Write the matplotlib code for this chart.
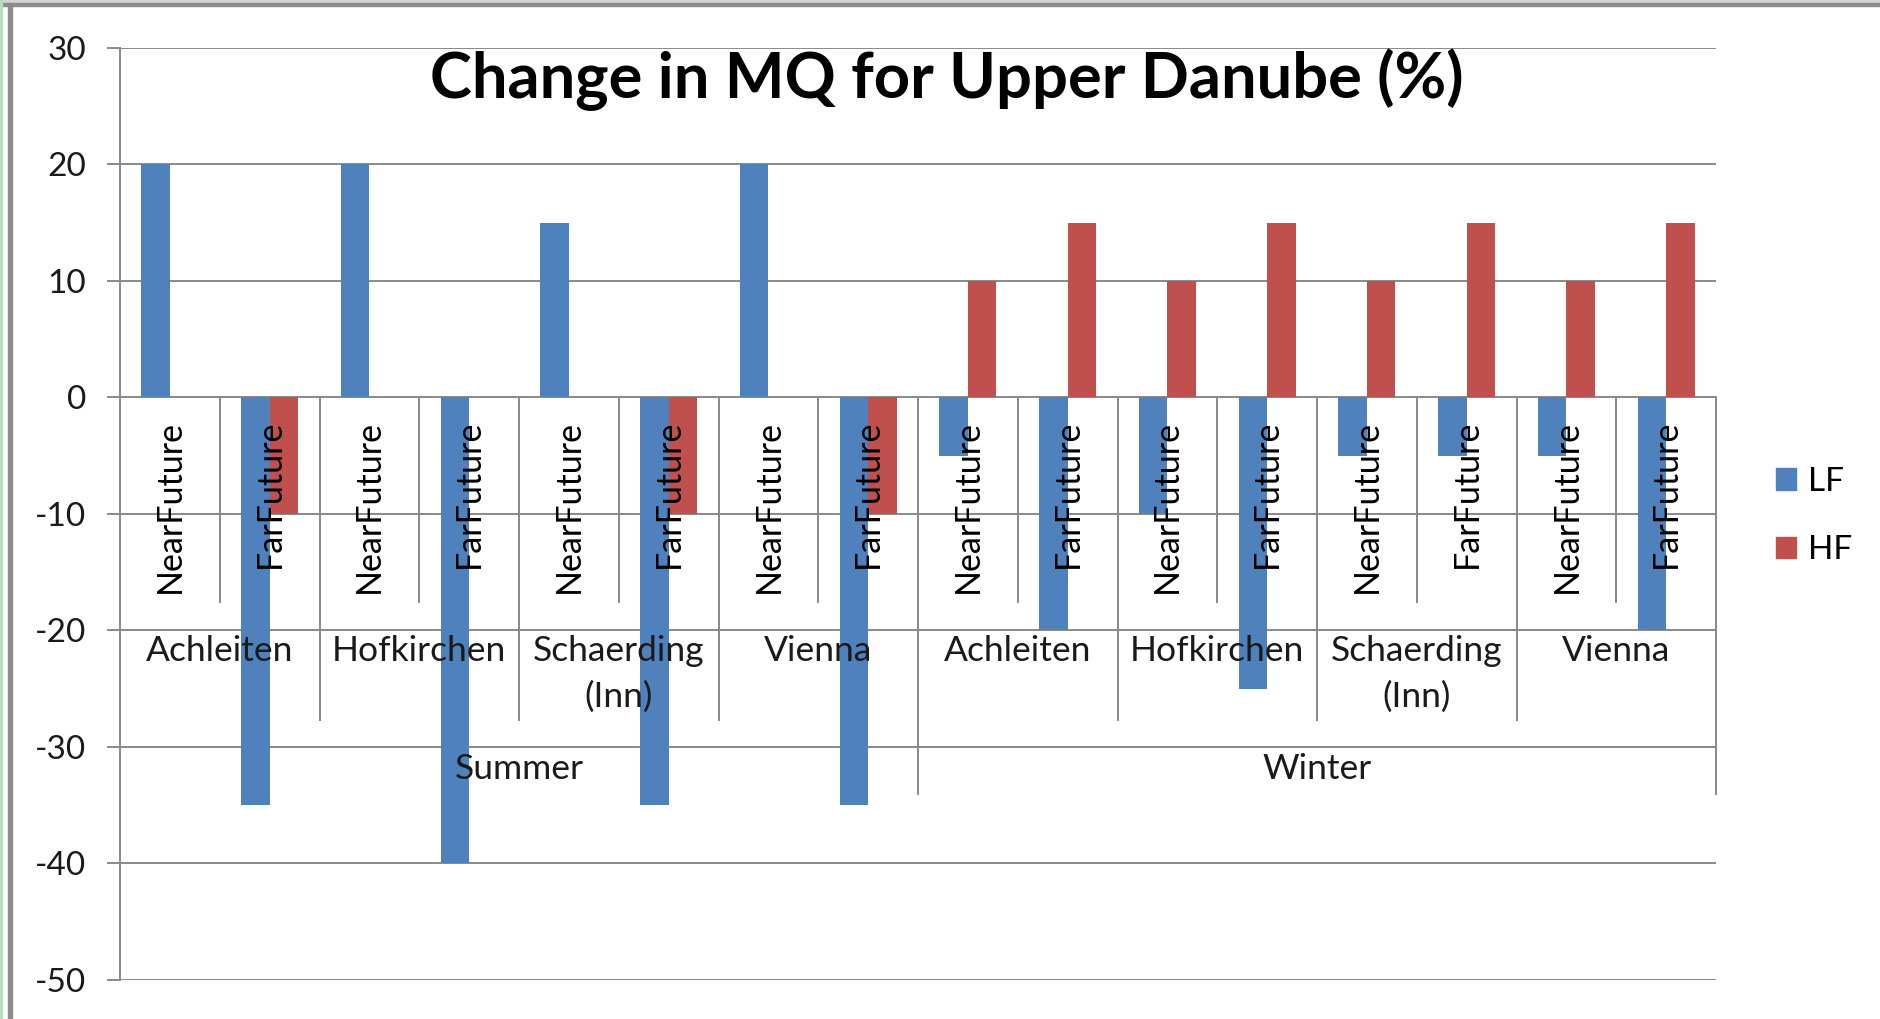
import matplotlib
matplotlib.use('Agg')
import numpy as np
import matplotlib.pyplot as plt
from matplotlib.patches import Rectangle, Patch

plt.rcParams['font.family'] = ['Lato', 'DejaVu Sans']
plt.rcParams['axes.unicode_minus'] = False

# data
seasons = ['Summer', 'Winter']
stations = ['Achleiten', 'Hofkirchen', 'Schaerding\n(Inn)', 'Vienna']
periods = ['NearFuture', 'FarFuture']
lf = [20, -35, 20, -40, 15, -35, 20, -35,
      -5, -20, -10, -25, -5, -5, -5, -20]
hf = [0, -10, 0, 0, 0, -10, 0, -10,
      10, 15, 10, 15, 10, 15, 10, 15]

blue = '#4F81BD'
red = '#C0504D'
gray = '#898989'

W, H = 1881, 1019
fig = plt.figure(figsize=(W / 100, H / 100), dpi=100)
top_px, bot_px = 47.7, 980
ax = fig.add_axes([120 / W, 1 - bot_px / H, (1716 - 120) / W, (bot_px - top_px) / H])


def ypx(p):
    # pixel row -> data value
    return 30 - (p - top_px) / ((bot_px - top_px) / 80)


n = len(lf)
x = np.arange(n)
w = 0.2857
ax.bar(x - w / 2, lf, w, color=blue, zorder=2)
ax.bar(x + w / 2, hf, w, color=red, zorder=2)

ax.set_xlim(-0.5, n - 0.5)
ax.set_ylim(-50, 30)
ax.set_yticks(range(-50, 31, 10))
ax.set_xticks([])
ax.grid(axis='y', color=gray, lw=1.4)
ax.set_axisbelow(True)
for s in ['top', 'right', 'bottom']:
    ax.spines[s].set_visible(False)
ax.spines['left'].set_color(gray)
ax.spines['left'].set_linewidth(1.4)
ax.tick_params(axis='y', length=9.4, width=1.4, color=gray, pad=15, labelsize=24,
               labelcolor='#1a1a1a')

# multi-level category labels
for i in range(n):
    ax.text(i, ypx(420), periods[i % 2], rotation=90, ha='center', va='top',
            fontsize=24.5, color='black', zorder=4)
for j in range(len(seasons) * len(stations)):
    ax.text(2 * j + 0.5, ypx(635), stations[j % len(stations)], ha='center', va='top',
            fontsize=25.5, color='#1a1a1a', linespacing=1.52, zorder=4)
for k, s in enumerate(seasons):
    ax.text(8 * k + 3.5, ypx(769), s, ha='center', va='center',
            fontsize=25.5, color='#1a1a1a', zorder=4)

# separators
for b in range(1, n + 1):
    xb = b - 0.5
    if b % 8 == 0:
        yb = ypx(794)
    elif b % 2 == 0:
        yb = ypx(720)
    else:
        yb = ypx(602)
    ax.plot([xb, xb], [0, yb], color=gray, lw=1.4, clip_on=False, zorder=1.5)

# title
fig.text(947 / W, 1 - 80 / H, 'Change in MQ for Upper Danube (%)', ha='center',
         va='center', fontsize=45.5, fontweight='bold', color='black')

# legend
handles = [Patch(color=blue, label='LF'), Patch(color=red, label='HF')]
fig.legend(handles=handles, loc='center left', bbox_to_anchor=(1776 / W, 1 - 516 / H),
           frameon=False, fontsize=24, handlelength=0.6, handleheight=0.6,
           handletextpad=0.35, labelspacing=1.15, borderpad=0, borderaxespad=0)

# window frame
fig.patches.append(Rectangle((0, 1 - 3 / H), 1, 3 / H, transform=fig.transFigure,
                             color='#d4d4d4', zorder=0))
fig.patches.append(Rectangle((0, 1 - 6 / H), 1, 3 / H, transform=fig.transFigure,
                             color='#8c8c8c', zorder=0))
fig.patches.append(Rectangle((0, 0), 2 / W, 1, transform=fig.transFigure,
                             color='#b8dcc0', zorder=0))
fig.patches.append(Rectangle((8 / W, 0), 4 / W, 1 - 3 / H, transform=fig.transFigure,
                             color='#8c8c8c', zorder=0))

fig.savefig('out.png', dpi=100)
